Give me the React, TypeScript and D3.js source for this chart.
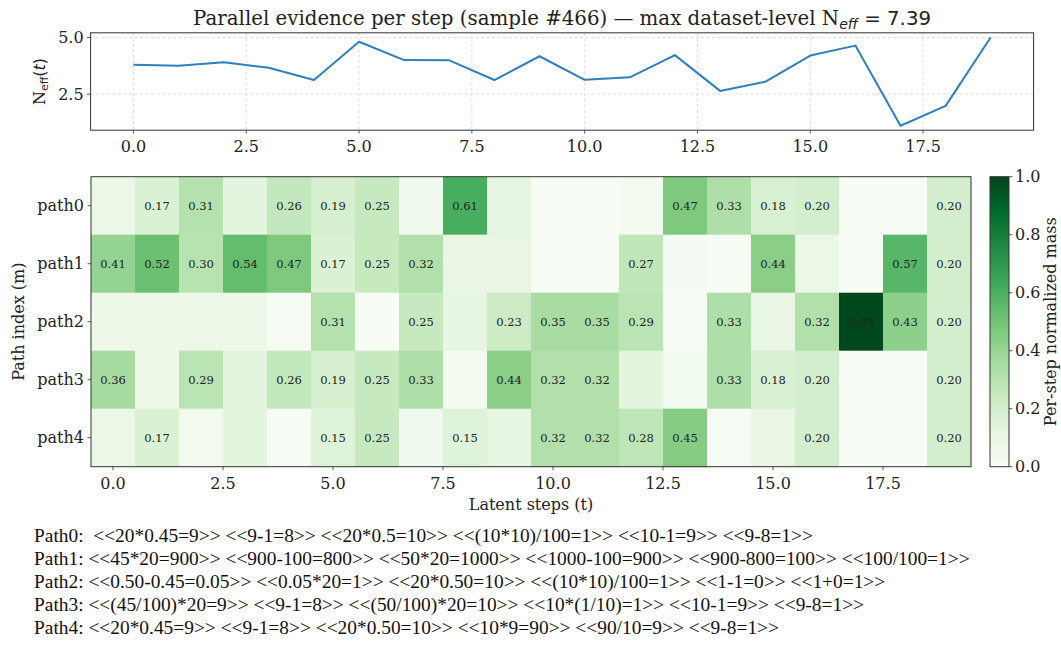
import React from "react";
import * as d3 from "d3";

// latent steps and N_eff(t)
const steps = [0, 1, 2, 3, 4, 5, 6, 7, 8, 9, 10, 11, 12, 13, 14, 15, 16, 17, 18, 19];
const neff = [3.79, 3.75, 3.91, 3.66, 3.12, 4.81, 4.0, 3.99, 3.12, 4.17, 3.13, 3.24, 4.22, 2.64, 3.04, 4.2, 4.64, 1.1, 1.98, 5.01];

const paths = ["path0", "path1", "path2", "path3", "path4"];
const path0 = [0.08, 0.17, 0.31, 0.13, 0.26, 0.19, 0.25, 0.05, 0.61, 0.12, 0.01, 0.01, 0.03, 0.47, 0.33, 0.18, 0.2, 0.0, 0.0, 0.2];
const path1 = [0.41, 0.52, 0.3, 0.54, 0.47, 0.17, 0.25, 0.32, 0.1, 0.1, 0.0, 0.0, 0.27, 0.02, 0.0, 0.44, 0.08, 0.0, 0.57, 0.2];
const path2 = [0.07, 0.07, 0.07, 0.07, 0.01, 0.31, 0.0, 0.25, 0.11, 0.23, 0.35, 0.35, 0.29, 0.01, 0.33, 0.1, 0.32, 0.99, 0.43, 0.2];
const path3 = [0.36, 0.07, 0.29, 0.13, 0.26, 0.19, 0.25, 0.33, 0.03, 0.44, 0.32, 0.32, 0.13, 0.04, 0.33, 0.18, 0.2, 0.0, 0.0, 0.2];
const path4 = [0.08, 0.17, 0.03, 0.13, 0.01, 0.15, 0.25, 0.05, 0.15, 0.11, 0.32, 0.32, 0.28, 0.45, 0.01, 0.1, 0.2, 0.0, 0.0, 0.2];
const mass = [path0, path1, path2, path3, path4];

const stepTicks = [0, 2.5, 5, 7.5, 10, 12.5, 15, 17.5];
const neffTicks = [2.5, 5.0];
const cbarTicks = [0, 0.2, 0.4, 0.6, 0.8, 1.0];

const traces = [
  "Path0:  <<20*0.45=9>> <<9-1=8>> <<20*0.5=10>> <<(10*10)/100=1>> <<10-1=9>> <<9-8=1>>",
  "Path1: <<45*20=900>> <<900-100=800>> <<50*20=1000>> <<1000-100=900>> <<900-800=100>> <<100/100=1>>",
  "Path2: <<0.50-0.45=0.05>> <<0.05*20=1>> <<20*0.50=10>> <<(10*10)/100=1>> <<1-1=0>> <<1+0=1>>",
  "Path3: <<(45/100)*20=9>> <<9-1=8>> <<(50/100)*20=10>> <<10*(1/10)=1>> <<10-1=9>> <<9-8=1>>",
  "Path4: <<20*0.45=9>> <<9-1=8>> <<20*0.50=10>> <<10*9=90>> <<90/10=9>> <<9-8=1>>",
];

// matplotlib "Greens"
const greens = ["#f7fcf5", "#e5f5e0", "#c7e9c0", "#a1d99b", "#74c476", "#41ab5d", "#238b45", "#006d2c", "#00441b"];

const SERIF = "DejaVu Serif";
const SANS = "DejaVu Sans";
const ink = "#222";
const spine = "#333";
const TICK = 16;

export default function App() {
  const color = d3
    .scaleLinear<string>()
    .domain(greens.map((_, i) => i / (greens.length - 1)))
    .range(greens)
    .interpolate(d3.interpolateRgb);

  // top panel
  const top = { left: 90.6, right: 1033.6, top: 32.8, bottom: 130.2 };
  const tx = d3.scaleLinear().domain([-0.95, 19.95]).range([top.left, top.right]);
  const [mn, mx] = d3.extent(neff) as [number, number];
  const pad = (mx - mn) * 0.05;
  const ty = d3.scaleLinear().domain([mn - pad, mx + pad]).range([top.bottom, top.top]);
  const line = d3
    .line<number>()
    .x((_, i) => tx(steps[i]))
    .y((d) => ty(d));

  // heatmap
  const hm = { left: 91, right: 971, top: 176.7, bottom: 466.7 };
  const hx = d3.scaleLinear().domain([-0.5, 19.5]).range([hm.left, hm.right]);
  const hy = d3.scaleBand().domain(paths).range([hm.top, hm.bottom]);
  const cw = hx(1) - hx(0);

  // colorbar
  const cb = { left: 990, right: 1009, top: 176.7, bottom: 466.7 };
  const cy = d3.scaleLinear().domain([0, 1]).range([cb.bottom, cb.top]);

  return (
    <svg width={1061} height={650} style={{ position: "absolute", left: 0, top: 0, background: "#fff" }}>
      <defs>
        <linearGradient id="cbar" x1="0" y1="1" x2="0" y2="0">
          {greens.map((g, i) => (
            <stop key={i} offset={i / (greens.length - 1)} stopColor={g} />
          ))}
        </linearGradient>
      </defs>

      {/* title */}
      <text x={(top.left + top.right) / 2} y={25} textAnchor="middle" fontFamily={SERIF} fontSize={19.8} fill={ink}>
        Parallel evidence per step (sample #466) — max dataset-level N
        <tspan fontFamily={SANS} fontStyle="italic" fontSize={14} dy={4}>eff</tspan>
        <tspan fontFamily={SANS} dy={-4}> = 7.39</tspan>
      </text>

      {/* top panel grid */}
      {stepTicks.map((t) => (
        <line key={"gx" + t} x1={tx(t)} x2={tx(t)} y1={top.top} y2={top.bottom} stroke="#d4d4d4" strokeWidth={0.8} strokeDasharray="3,2.5" />
      ))}
      {neffTicks.map((t) => (
        <line key={"gy" + t} x1={top.left} x2={top.right} y1={ty(t)} y2={ty(t)} stroke="#d4d4d4" strokeWidth={0.8} strokeDasharray="3,2.5" />
      ))}
      <path d={line(neff) || ""} fill="none" stroke="#2f7fc1" strokeWidth={2} strokeLinejoin="round" />
      <rect x={top.left} y={top.top} width={top.right - top.left} height={top.bottom - top.top} fill="none" stroke={spine} strokeWidth={1} />
      {stepTicks.map((t) => (
        <g key={"tx" + t}>
          <line x1={tx(t)} x2={tx(t)} y1={top.bottom} y2={top.bottom + 3.5} stroke={spine} strokeWidth={0.8} />
          <text x={tx(t)} y={top.bottom + 22} textAnchor="middle" fontFamily={SERIF} fontSize={TICK} fill={ink}>
            {t.toFixed(1)}
          </text>
        </g>
      ))}
      {neffTicks.map((t) => (
        <g key={"ty" + t}>
          <line x1={top.left - 3.5} x2={top.left} y1={ty(t)} y2={ty(t)} stroke={spine} strokeWidth={0.8} />
          <text x={top.left - 7} y={ty(t) + 5.5} textAnchor="end" fontFamily={SERIF} fontSize={TICK} fill={ink}>
            {t.toFixed(1)}
          </text>
        </g>
      ))}
      <text transform={`translate(45,${(top.top + top.bottom) / 2}) rotate(-90)`} textAnchor="middle" fontFamily={SERIF} fontSize={TICK} fill={ink}>
        N<tspan fontFamily={SANS} fontSize={11} dy={3}>eff</tspan>
        <tspan fontFamily={SANS} dy={-3}>(</tspan>
        <tspan fontFamily={SANS} fontStyle="italic">t</tspan>
        <tspan fontFamily={SANS}>)</tspan>
      </text>

      {/* heatmap */}
      {mass.map((row, r) =>
        row.map((v, c) => (
          <rect key={`c${r}-${c}`} x={hx(c) - cw / 2} y={hy(paths[r])} width={cw + 0.5} height={hy.bandwidth() + 0.5} fill={color(v)} />
        ))
      )}
      {mass.map((row, r) =>
        row.map((v, c) =>
          v >= 0.15 ? (
            <text key={`a${r}-${c}`} x={hx(c)} y={(hy(paths[r]) as number) + hy.bandwidth() / 2 + 4} textAnchor="middle" fontFamily={SERIF} fontSize={11.5} fill={ink}>
              {v.toFixed(2)}
            </text>
          ) : null
        )
      )}
      <rect x={hm.left} y={hm.top} width={hm.right - hm.left} height={hm.bottom - hm.top} fill="none" stroke={spine} strokeWidth={1} />
      {stepTicks.map((t) => (
        <g key={"hx" + t}>
          <line x1={hx(t)} x2={hx(t)} y1={hm.bottom} y2={hm.bottom + 3.5} stroke={spine} strokeWidth={0.8} />
          <text x={hx(t)} y={hm.bottom + 22} textAnchor="middle" fontFamily={SERIF} fontSize={TICK} fill={ink}>
            {t.toFixed(1)}
          </text>
        </g>
      ))}
      {paths.map((p) => {
        const yc = (hy(p) as number) + hy.bandwidth() / 2;
        return (
          <g key={"hy" + p}>
            <line x1={hm.left - 3.5} x2={hm.left} y1={yc} y2={yc} stroke={spine} strokeWidth={0.8} />
            <text x={hm.left - 7} y={yc + 5.5} textAnchor="end" fontFamily={SERIF} fontSize={TICK} fill={ink}>
              {p}
            </text>
          </g>
        );
      })}
      <text x={(hm.left + hm.right) / 2} y={hm.bottom + 43} textAnchor="middle" fontFamily={SERIF} fontSize={TICK} fill={ink}>
        Latent steps (t)
      </text>
      <text transform={`translate(24,${(hm.top + hm.bottom) / 2}) rotate(-90)`} textAnchor="middle" fontFamily={SERIF} fontSize={TICK} fill={ink}>
        Path index (m)
      </text>

      {/* colorbar */}
      <rect x={cb.left} y={cb.top} width={cb.right - cb.left} height={cb.bottom - cb.top} fill="url(#cbar)" stroke={spine} strokeWidth={1} />
      {cbarTicks.map((t) => (
        <g key={"cb" + t}>
          <line x1={cb.right} x2={cb.right + 3.5} y1={cy(t)} y2={cy(t)} stroke={spine} strokeWidth={0.8} />
          <text x={cb.right + 6} y={cy(t) + 5.5} fontFamily={SERIF} fontSize={TICK} fill={ink}>
            {t.toFixed(1)}
          </text>
        </g>
      ))}
      <text transform={`translate(1056,${(cb.top + cb.bottom) / 2}) rotate(-90)`} textAnchor="middle" fontFamily={SERIF} fontSize={TICK} fill={ink}>
        Per-step normalized mass
      </text>

      {/* reasoning traces */}
      {traces.map((s, i) => (
        <text key={"tr" + i} x={34} y={542 + i * 23} fontFamily="Liberation Serif" fontSize={19.4} fill="#111" style={{ whiteSpace: "pre" }}>
          {s}
        </text>
      ))}
    </svg>
  );
}
